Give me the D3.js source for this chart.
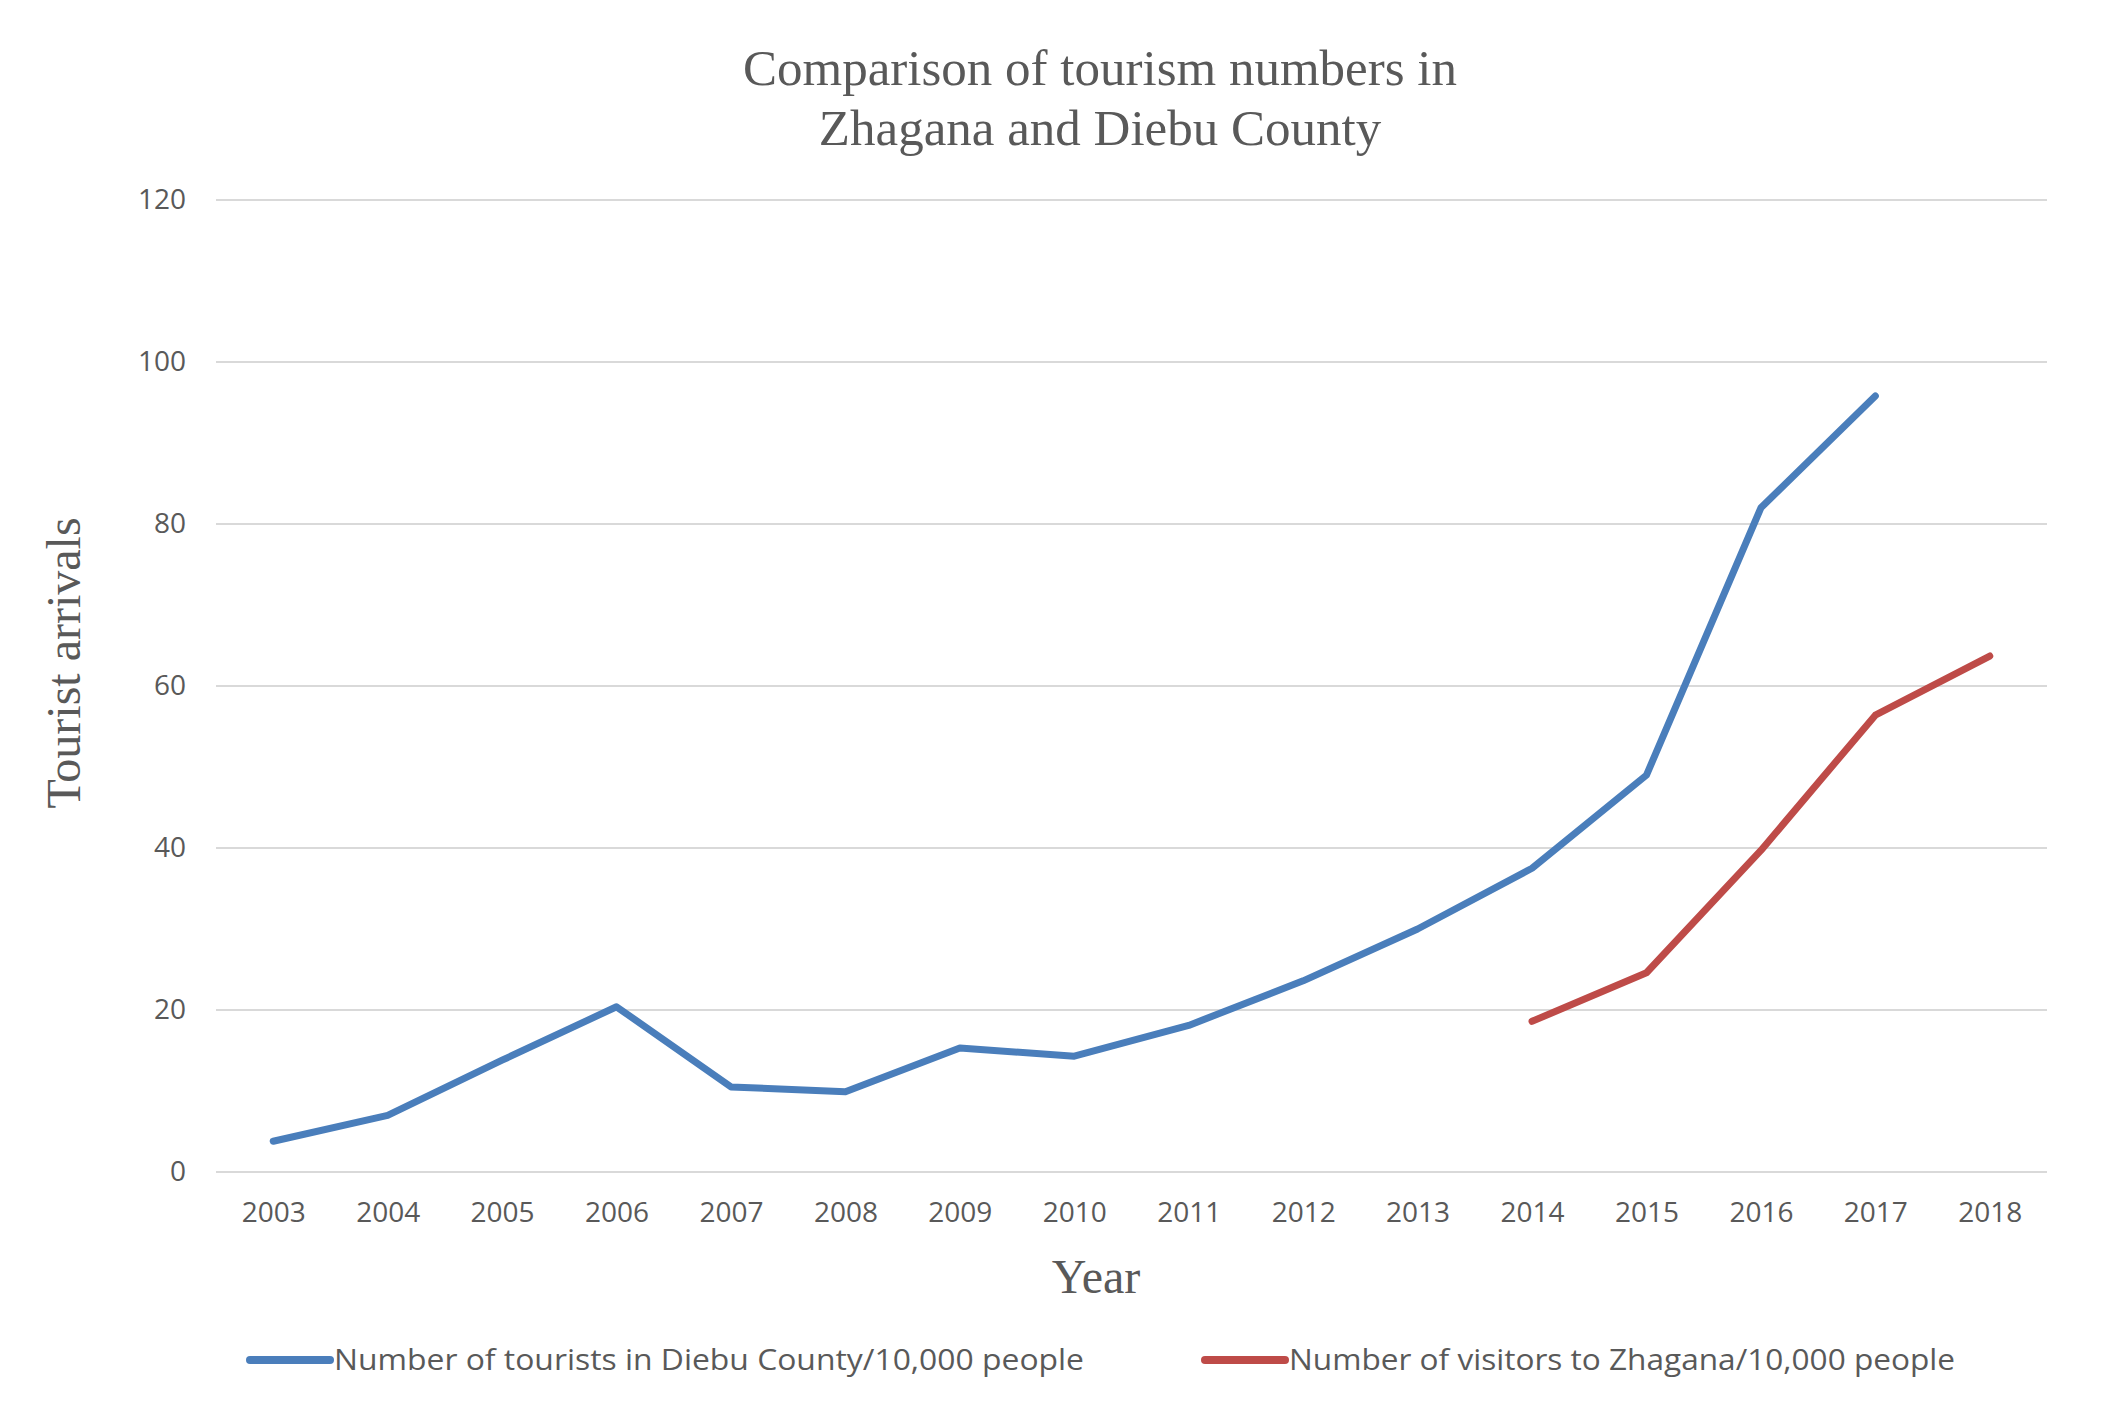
<!DOCTYPE html>
<html>
<head>
<meta charset="utf-8">
<script src="https://cdn.jsdelivr.net/npm/d3@7"></script>
<style>
  body { margin: 0; background: #fff; }
  .tick text { fill: #595959; font-family: "Open Sans", sans-serif; font-size: 28px; }
  .serif { font-family: "Liberation Serif", "Times New Roman", serif; fill: #595959; }
  .legend text { font-family: "Open Sans", sans-serif; font-size: 30px; fill: #595959; }
</style>
</head>
<body>
<div class="chart"></div>
<script>
var years = ["2003", "2004", "2005", "2006", "2007", "2008", "2009", "2010",
  "2011", "2012", "2013", "2014", "2015", "2016", "2017", "2018"];

var diebuYears = ["2003", "2004", "2005", "2006", "2007", "2008", "2009", "2010",
  "2011", "2012", "2013", "2014", "2015", "2016", "2017"];
var diebuValues = [3.8, 7.0, 13.8, 20.4, 10.5, 9.9, 15.3, 14.3,
  18.1, 23.6, 30.0, 37.5, 49.0, 82.0, 95.8];

var zhaganaYears = ["2014", "2015", "2016", "2017", "2018"];
var zhaganaValues = [18.6, 24.6, 39.7, 56.4, 63.7];

var yTicks = [0, 20, 40, 60, 80, 100, 120];

var seriesNames = ["Number of tourists in Diebu County/10,000 people",
  "Number of visitors to Zhagana/10,000 people"];
var seriesColors = ["#4a7ebb", "#be4b48"];

var svgWidth = 2108;
var svgHeight = 1420;

var margin = {
  top: 200,
  right: 61,
  bottom: 248,
  left: 216
};

var width = svgWidth - margin.left - margin.right;
var height = svgHeight - margin.top - margin.bottom;

var svg = d3
  .select(".chart")
  .append("svg")
  .attr("width", svgWidth)
  .attr("height", svgHeight);

var chartGroup = svg.append("g")
  .attr("transform", `translate(${margin.left}, ${margin.top})`);

var xScale = d3.scalePoint()
  .domain(years)
  .range([0, width])
  .padding(0.5);

var yScale = d3.scaleLinear()
  .domain([0, 120])
  .range([height, 0]);

// gridlines
chartGroup.append("g")
  .selectAll("line")
  .data(yTicks)
  .enter()
  .append("line")
  .attr("x1", 0)
  .attr("x2", width)
  .attr("y1", d => yScale(d))
  .attr("y2", d => yScale(d))
  .attr("stroke", "#d9d9d9")
  .attr("stroke-width", 2);

var leftAxis = d3.axisLeft(yScale)
  .tickValues(yTicks)
  .tickSize(0)
  .tickPadding(30);

var bottomAxis = d3.axisBottom(xScale)
  .tickSize(0)
  .tickPadding(30);

chartGroup.append("g")
  .call(leftAxis)
  .call(g => g.select(".domain").remove());

chartGroup.append("g")
  .attr("transform", `translate(0, ${height})`)
  .call(bottomAxis)
  .call(g => g.select(".domain").remove());

var line = d3.line()
  .x(d => xScale(d.year))
  .y(d => yScale(d.value));

var diebuData = diebuYears.map((y, i) => ({ year: y, value: diebuValues[i] }));
var zhaganaData = zhaganaYears.map((y, i) => ({ year: y, value: zhaganaValues[i] }));

[diebuData, zhaganaData].forEach(function(data, i) {
  chartGroup.append("path")
    .datum(data)
    .attr("d", line)
    .attr("fill", "none")
    .attr("stroke", seriesColors[i])
    .attr("stroke-width", 7)
    .attr("stroke-linecap", "round")
    .attr("stroke-linejoin", "round");
});

// title
var title = svg.append("text")
  .classed("serif", true)
  .attr("text-anchor", "middle")
  .attr("font-size", "51px");

title.append("tspan")
  .attr("x", 1100)
  .attr("y", 85)
  .text("Comparison of tourism numbers in");

title.append("tspan")
  .attr("x", 1100)
  .attr("y", 145)
  .text("Zhagana and Diebu County");

svg.append("text")
  .classed("serif", true)
  .attr("text-anchor", "middle")
  .attr("font-size", "48px")
  .attr("transform", "translate(80, 663) rotate(-90)")
  .text("Tourist arrivals");

svg.append("text")
  .classed("serif", true)
  .attr("text-anchor", "middle")
  .attr("font-size", "48px")
  .attr("x", 1096)
  .attr("y", 1293)
  .text("Year");

// legend
var legendItems = [
  { x: 250, textWidth: 750 },
  { x: 1205, textWidth: 666 }
];

var legend = svg.append("g").classed("legend", true);

legendItems.forEach(function(item, i) {
  legend.append("line")
    .attr("x1", item.x)
    .attr("x2", item.x + 80)
    .attr("y1", 1360)
    .attr("y2", 1360)
    .attr("stroke", seriesColors[i])
    .attr("stroke-width", 8)
    .attr("stroke-linecap", "round");

  legend.append("text")
    .attr("x", item.x + 84)
    .attr("y", 1370)
    .attr("textLength", item.textWidth)
    .attr("lengthAdjust", "spacingAndGlyphs")
    .text(seriesNames[i]);
});
</script>
</body>
</html>
